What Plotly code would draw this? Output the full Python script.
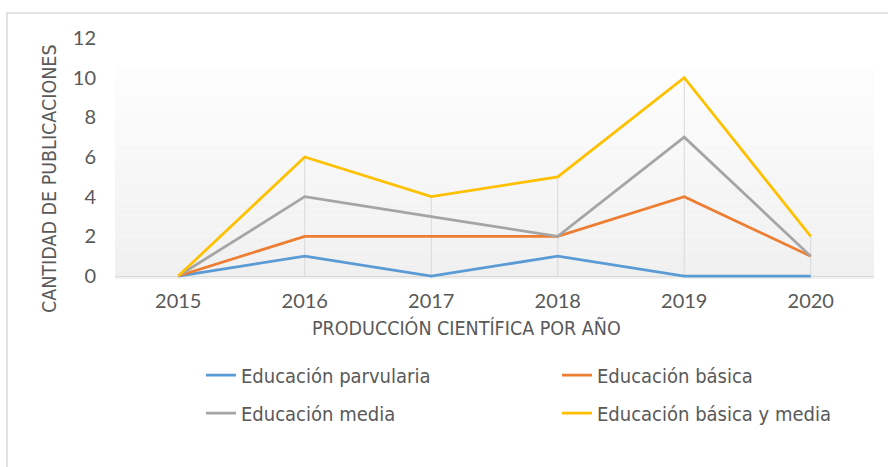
import plotly.graph_objects as go

years = ["2015", "2016", "2017", "2018", "2019", "2020"]
parvularia = [0, 1, 0, 1, 0, 0]
basica = [0, 2, 2, 2, 4, 1]
media = [0, 4, 3, 2, 7, 1]
basica_media = [0, 6, 4, 5, 10, 2]

series = [
    ("Educación parvularia", parvularia, "#5B9BD5"),
    ("Educación básica", basica, "#ED7D31"),
    ("Educación media", media, "#A5A5A5"),
    ("Educación básica y media", basica_media, "#FFC000"),
]
# legend anchor points (text start x, row centre y) in pixels
legend_pos = [(242, 375), (598, 375), (242, 413), (598, 413)]

FONT = "Lato, Carlito, Liberation Sans, sans-serif"
NARROW = "Liberation Sans Narrow, Arial Narrow, DejaVu Sans Condensed, sans-serif"
TXT = "#595959"

W, H = 888, 467
L, R, T, B = 115, 888 - 874, 38, 467 - 279


def px_x(px):
    return (px - L) / (W - L - R)


def px_y(py):
    return (H - B - py) / (H - T - B)


fig = go.Figure()

# drop lines (Excel style) from the axis up to the highest series
mx = [max(v) for v in zip(*[s[1] for s in series])]
dx, dy = [], []
for yr, m in zip(years, mx):
    if m > 0:
        dx += [yr, yr, None]
        dy += [0, m, None]
fig.add_trace(go.Scatter(x=dx, y=dy, mode="lines", line=dict(color="#d9d9d9", width=1),
                         showlegend=False, hoverinfo="skip"))

legends = {}
for i, (name, vals, col) in enumerate(series):
    lg = "legend" if i == 0 else f"legend{i + 1}"
    fig.add_trace(go.Scatter(x=years, y=vals, name=name, mode="lines",
                             line=dict(color=col, width=2.75), legend=lg))
    tx, ty = legend_pos[i]
    legends[lg] = dict(orientation="h", x=px_x(tx - 41), xanchor="left",
                       y=px_y(ty), yanchor="middle",
                       font=dict(size=20, color=TXT, family=NARROW),
                       bgcolor="rgba(0,0,0,0)")

shapes = []
# gradient plot-area fill
n = 30
top_p = px_y(67)
for i in range(n):
    t = i / (n - 1)
    c = int(round(240 + (253 - 240) * t))
    shapes.append(dict(type="rect", xref="paper", yref="paper", x0=0, x1=1,
                       y0=top_p * i / n, y1=top_p * (i + 1) / n,
                       fillcolor=f"rgb({c},{c},{c})", line=dict(width=0), layer="below"))
# outer chart border
shapes.append(dict(type="rect", xref="paper", yref="paper",
                   x0=px_x(7), x1=px_x(895), y0=px_y(13), y1=px_y(475),
                   line=dict(color="#d9d9d9", width=1.5), fillcolor="rgba(0,0,0,0)", layer="below"))

fig.update_layout(
    width=W, height=H,
    margin=dict(l=L, r=R, t=T, b=B),
    paper_bgcolor="white", plot_bgcolor="rgba(0,0,0,0)",
    font=dict(family=FONT, color=TXT, size=18),
    shapes=shapes,
    xaxis=dict(type="category", categoryorder="array", categoryarray=years,
               range=[-0.5, 5.5], showgrid=False, showline=False,
               ticks="", tickfont=dict(size=20, color=TXT), ticklabelstandoff=8),
    yaxis=dict(range=[-0.15, 12], tickvals=[0, 2, 4, 6, 8, 10, 12], showgrid=False,
               zeroline=True, zerolinecolor="#d9d9d9", zerolinewidth=1,
               showline=False, ticks="", tickfont=dict(size=20, color=TXT),
               ticklabelstandoff=18),
    annotations=[
        dict(text="PRODUCCIÓN CIENTÍFICA POR AÑO", xref="paper", yref="paper",
             x=px_x(466), y=px_y(328), xanchor="center", yanchor="middle", showarrow=False,
             font=dict(size=19.5, color=TXT, family=NARROW)),
        dict(text="CANTIDAD DE PUBLICACIONES", xref="paper", yref="paper",
             x=px_x(50), y=px_y(179), xanchor="center", yanchor="middle", showarrow=False,
             textangle=-90, font=dict(size=19.5, color=TXT, family=NARROW)),
    ],
    **legends,
)

fig.write_html("out.html")
